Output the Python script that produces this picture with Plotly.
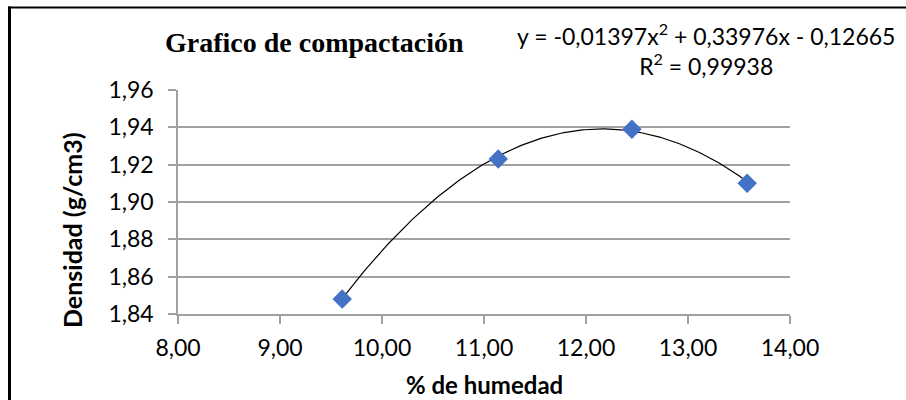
import numpy as np
import plotly.graph_objects as go

# Compaction test: moisture content vs dry density
humedad = [9.61, 11.14, 12.45, 13.58]
densidad = [1.848, 1.923, 1.939, 1.910]

# Second-order trendline coefficients (a*x^2 + b*x + c) and fit quality
coef_a, coef_b, coef_c = -0.01397, 0.33976, -0.12665
r2_text = "0,99938"

x_ticks = [8, 9, 10, 11, 12, 13, 14]
x_tick_labels = ["8,00", "9,00", "10,00", "11,00", "12,00", "13,00", "14,00"]
y_ticks = [1.84, 1.86, 1.88, 1.90, 1.92, 1.94, 1.96]
y_tick_labels = ["1,84", "1,86", "1,88", "1,90", "1,92", "1,94", "1,96"]

W, H = 906, 400
M_L, M_R, M_T, M_B = 178, 116, 90, 86
PW, PH = W - M_L - M_R, H - M_T - M_B


def px_x(p):
    return (p - M_L) / PW


def px_y(p):
    return (H - M_B - p) / PH


# Trendline drawn over the data range from the stated equation
xt = np.linspace(min(humedad), max(humedad), 200)
yt = coef_a * xt**2 + coef_b * xt + coef_c

grid = "#A0A0A0"
sans = "Lato"

fig = go.Figure()
fig.add_trace(go.Scatter(x=xt, y=yt, mode="lines",
                         line=dict(color="black", width=1.2),
                         hoverinfo="skip", showlegend=False))
fig.add_trace(go.Scatter(x=humedad, y=densidad, mode="markers",
                         marker=dict(symbol="diamond", size=15, color="#4472C4",
                                     line=dict(width=0)),
                         showlegend=False))

fig.update_layout(
    width=W, height=H,
    margin=dict(l=M_L, r=M_R, t=M_T, b=M_B),
    paper_bgcolor="white", plot_bgcolor="white",
    font=dict(family=sans, size=23, color="black"),
    xaxis=dict(range=[8, 14], tickvals=x_ticks, ticktext=x_tick_labels,
               showgrid=False, zeroline=False,
               showline=True, linecolor=grid, linewidth=1.5,
               ticks="outside", ticklen=8, tickcolor=grid, tickwidth=1.5,
               ticklabelstandoff=5,
               tickfont=dict(family=sans, size=23, color="black")),
    yaxis=dict(range=[1.84, 1.96], tickvals=y_ticks, ticktext=y_tick_labels,
               showgrid=True, gridcolor=grid, gridwidth=1.5, zeroline=False,
               showline=True, linecolor=grid, linewidth=1.5,
               ticks="outside", ticklen=8, tickcolor=grid, tickwidth=1.5,
               ticklabelstandoff=10,
               tickfont=dict(family=sans, size=23, color="black")),
    annotations=[
        dict(text="<b>Grafico de compactación</b>", xref="paper", yref="paper",
             x=px_x(163), y=px_y(43), xanchor="left", yanchor="middle",
             showarrow=False,
             font=dict(family="Liberation Serif", size=28, color="black")),
        dict(text=f"y = -0,01397x<sup>2</sup> + 0,33976x - 0,12665<br>R<sup>2</sup> = {r2_text}",
             xref="paper", yref="paper", x=px_x(706), y=px_y(49),
             xanchor="center", yanchor="middle", align="center", showarrow=False,
             font=dict(family=sans, size=23, color="black")),
        dict(text="<b>Densidad (g/cm3)</b>", xref="paper", yref="paper",
             x=px_x(72), y=px_y(230), xanchor="center", yanchor="middle",
             textangle=-90, showarrow=False,
             font=dict(family=sans, size=25, color="black")),
        dict(text="<b>% de humedad</b>", xref="paper", yref="paper",
             x=px_x(484), y=px_y(384), xanchor="center", yanchor="middle",
             showarrow=False,
             font=dict(family=sans, size=24, color="black")),
    ],
    shapes=[
        dict(type="line", xref="paper", yref="paper",
             x0=px_x(9.5), x1=px_x(9.5), y0=px_y(6.5), y1=px_y(410),
             line=dict(color="black", width=3)),
        dict(type="line", xref="paper", yref="paper",
             x0=px_x(8), x1=px_x(920), y0=px_y(7.5), y1=px_y(7.5),
             line=dict(color="black", width=2)),
    ],
)

fig.write_html("out.html")
